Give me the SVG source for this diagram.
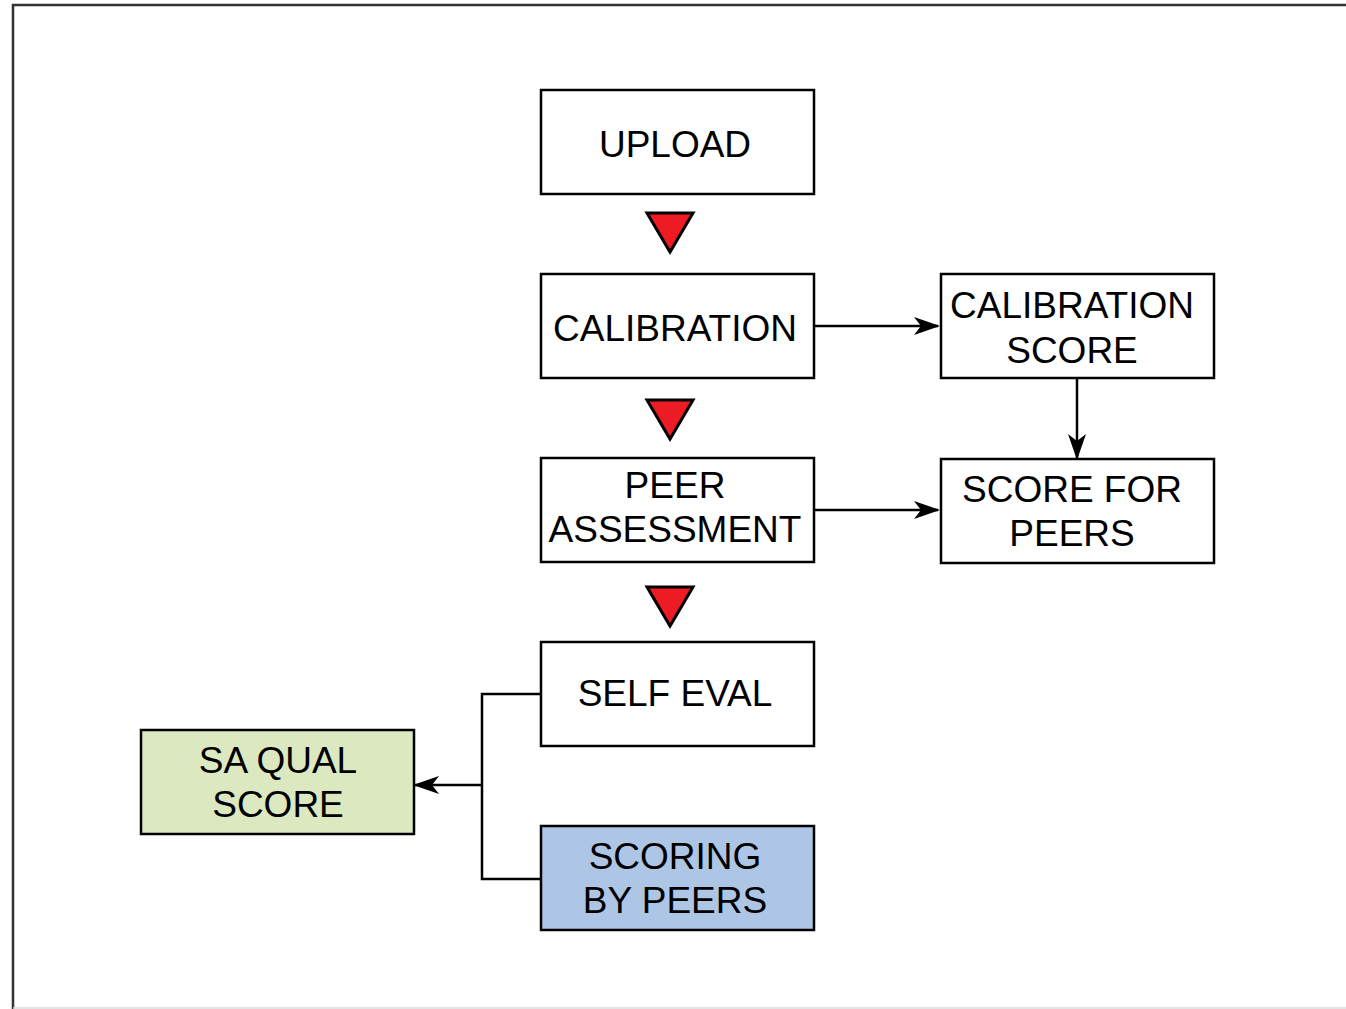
<svg xmlns="http://www.w3.org/2000/svg" width="1346" height="1009" viewBox="0 0 1346 1009">
<style>
.box{fill:#fff;stroke:#000;stroke-width:2.5}
.t{font-family:"Liberation Sans",Arial,sans-serif;font-size:37px;fill:#000;text-anchor:middle}
.tri{fill:#ed1c24;stroke:#000;stroke-width:3;stroke-linejoin:miter}
.c{fill:none;stroke:#000;stroke-width:2.5}
</style>
<defs>
<marker id="ah" viewBox="0 0 26 18" refX="24" refY="9" markerWidth="26" markerHeight="18" markerUnits="userSpaceOnUse" orient="auto">
<path d="M0,0 L26,9 L0,18 L7,9 Z" fill="#000"/>
</marker>
</defs>
<rect x="0" y="0" width="1346" height="1009" fill="#fff"/>
<path d="M13,1009 L13,5 L1346,5" fill="none" stroke="#333" stroke-width="2.5"/>
<line x1="13" y1="1008" x2="1346" y2="1008" stroke="#ddd" stroke-width="1.5"/>

<g id="connectors">
<line class="c" x1="815" y1="326" x2="938" y2="326" marker-end="url(#ah)"/>
<line class="c" x1="1077" y1="379" x2="1077" y2="458" marker-end="url(#ah)"/>
<line class="c" x1="815" y1="510" x2="938" y2="510" marker-end="url(#ah)"/>
<polyline class="c" points="541,694 482,694 482,879 541,879"/>
<line class="c" x1="482" y1="785" x2="415" y2="785" marker-end="url(#ah)"/>
</g>

<g id="arrows-down">
<polygon class="tri" points="647,213 693,213 670,252"/>
<polygon class="tri" points="647,400 693,400 670,439"/>
<polygon class="tri" points="647,587 693,587 670,626"/>
</g>

<g id="upload">
<rect class="box" x="541" y="90" width="273" height="104"/>
<text class="t" x="675" y="157">UPLOAD</text>
</g>
<g id="calibration">
<rect class="box" x="541" y="274" width="273" height="104"/>
<text class="t" x="675" y="341">CALIBRATION</text>
</g>
<g id="peer-assessment">
<rect class="box" x="541" y="458" width="273" height="104"/>
<text class="t" x="675" y="498">PEER</text>
<text class="t" x="675" y="542">ASSESSMENT</text>
</g>
<g id="self-eval">
<rect class="box" x="541" y="642" width="273" height="104"/>
<text class="t" x="675" y="706">SELF EVAL</text>
</g>
<g id="scoring-by-peers">
<rect class="box" x="541" y="826" width="273" height="104" style="fill:#aec6e6"/>
<text class="t" x="675" y="869">SCORING</text>
<text class="t" x="675" y="913">BY PEERS</text>
</g>
<g id="sa-qual-score">
<rect class="box" x="141" y="730" width="273" height="104" style="fill:#dbe8c0"/>
<text class="t" x="278" y="773">SA QUAL</text>
<text class="t" x="278" y="817">SCORE</text>
</g>
<g id="calibration-score">
<rect class="box" x="941" y="274" width="273" height="104"/>
<text class="t" x="1072" y="318">CALIBRATION</text>
<text class="t" x="1072" y="363">SCORE</text>
</g>
<g id="score-for-peers">
<rect class="box" x="941" y="459" width="273" height="104"/>
<text class="t" x="1072" y="502">SCORE FOR</text>
<text class="t" x="1072" y="546">PEERS</text>
</g>
</svg>
